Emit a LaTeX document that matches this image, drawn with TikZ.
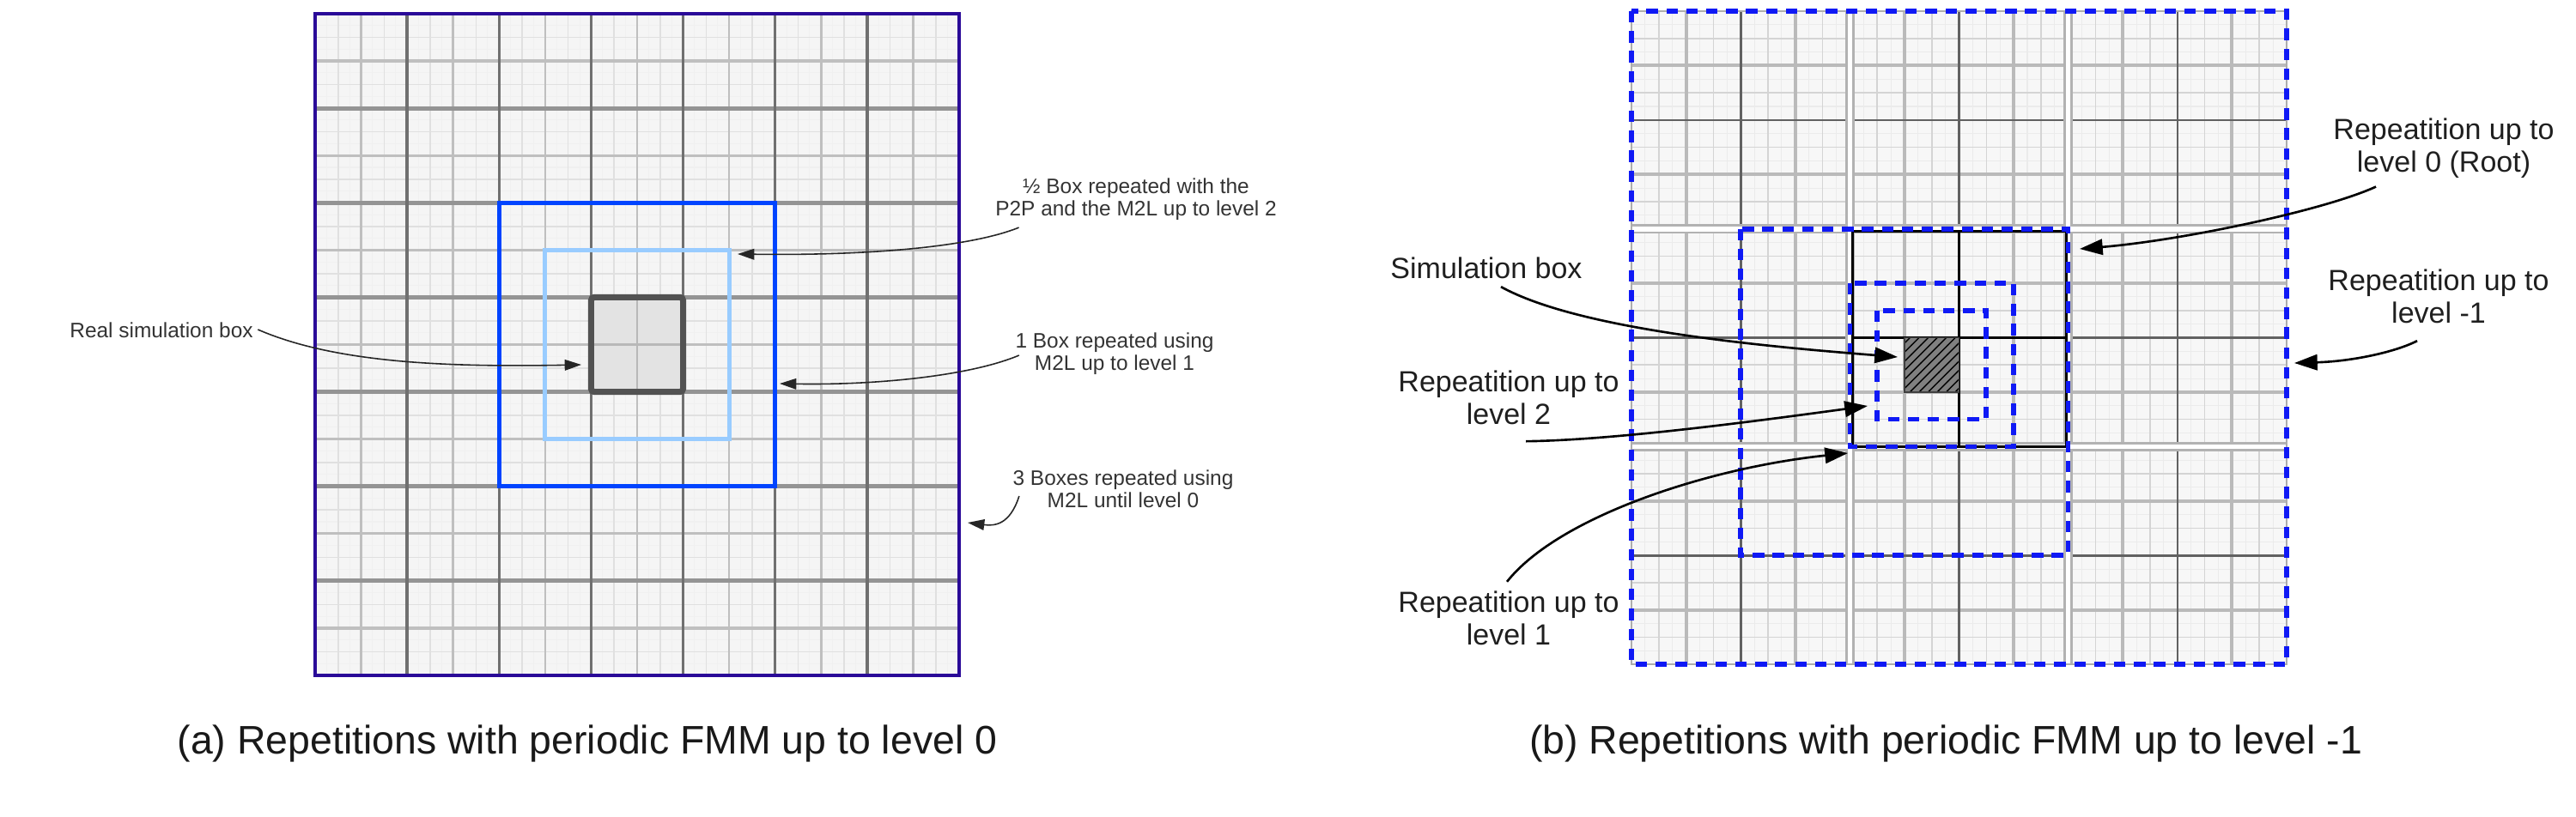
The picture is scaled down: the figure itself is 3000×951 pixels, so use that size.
\documentclass[tikz,border=0pt]{standalone}
\usepackage{fontspec}
\setmainfont{Liberation Sans}
\usetikzlibrary{arrows.meta,patterns}
\definecolor{indigoB}{RGB}{42,10,152}
\definecolor{blueB}{RGB}{0,68,255}
\definecolor{lblueB}{RGB}{153,204,255}
\definecolor{dashB}{RGB}{15,25,245}
\definecolor{txtL}{RGB}{51,51,51}
\tikzset{
  lablL/.style={font=\fontsize{6.95}{7.4}\selectfont, text=txtL, align=center, inner sep=0pt},
  lablR/.style={font=\fontsize{9.67}{10.8}\selectfont, text=black!88, align=center, inner sep=0pt},
  capt/.style={font=\fontsize{13.2}{15}\selectfont, text=black!90, inner sep=0pt},
  arrL/.style={draw=black!85, line width=0.45pt, -{Triangle[length=5.5pt,width=3.6pt]}},
  arrR/.style={draw=black, line width=0.75pt, -{Triangle[length=7.6pt,width=5.2pt]}},
  dashbox/.style={draw=dashB, line width=1.6pt, dash pattern=on 3.8pt off 2.8pt},
}
\begin{document}
\begin{tikzpicture}[x=0.01cm,y=-0.01cm]
\useasboundingbox (0,0) rectangle (3000,951);

% ---------------- left panel ----------------
\begin{scope}[shift={(367,16)},xscale=107.14,yscale=110.14]
  \fill[black!4] (0,0) rectangle (7,7);
  \foreach \k in {1,3,...,55} {
    \draw[black!6, line width=0.3pt] ({\k/8},0) -- ({\k/8},7);
    \draw[black!6, line width=0.3pt] (0,{\k/8}) -- (7,{\k/8});
  }
  \foreach \k in {1,3,...,27} {
    \draw[black!12, line width=0.45pt] ({\k/4},0) -- ({\k/4},7);
    \draw[black!12, line width=0.45pt] (0,{\k/4}) -- (7,{\k/4});
  }
  \foreach \k in {1,3,...,13} {
    \draw[black!25, line width=0.75pt] ({\k/2},0) -- ({\k/2},7);
    \draw[black!25, line width=0.9pt] (0,{\k/2}) -- (7,{\k/2});
  }
  \foreach \k in {1,...,6} {
    \draw[black!42, line width=1.5pt] (0,\k) -- (7,\k);
  }
  \foreach \k in {1,...,6} {
    \draw[black!56, line width=0.95pt] (\k,0) -- (\k,7);
  }
  \fill[black!11] (3,3) rectangle (4,4);
  \draw[black!28, line width=0.75pt] (3.5,3) -- (3.5,4) (3,3.5) -- (4,3.5);
  \draw[lblueB, line width=1.4pt] (2.5,2.5) rectangle (4.5,4.5);
  \draw[blueB, line width=1.4pt] (2,2) rectangle (5,5);
  \draw[black!68, line width=2pt, rounded corners=1pt] (3,3) rectangle (4,4);
  \draw[indigoB, line width=1.4pt] (0,0) rectangle (7,7);
\end{scope}

% ---------------- right panel ----------------
\begin{scope}[shift={(1900,13)},xscale=63.58,yscale=63.42]
  \fill[black!3] (0,0) rectangle (12,12);
  \foreach \k in {1,3,...,47} {
    \draw[black!8, line width=0.3pt] ({\k/4},0) -- ({\k/4},12);
    \draw[black!8, line width=0.3pt] (0,{\k/4}) -- (12,{\k/4});
  }
  \foreach \k in {1,3,...,23} {
    \draw[black!17, line width=0.45pt] ({\k/2},0) -- ({\k/2},12);
    \draw[black!17, line width=0.45pt] (0,{\k/2}) -- (12,{\k/2});
  }
  \foreach \k in {1,3,...,11} {
    \draw[black!27, line width=1.1pt] (\k,0) -- (\k,12);
    \draw[black!27, line width=1.1pt] (0,\k) -- (12,\k);
  }
  \foreach \k in {2,6,10} {
    \draw[black!62, line width=0.75pt] (\k,0) -- (\k,12);
    \draw[black!62, line width=0.75pt] (0,\k) -- (12,\k);
  }
  \foreach \k in {4,8} {
    \draw[black!30, line width=3pt] (\k,0) -- (\k,12);
    \draw[black!30, line width=3pt] (0,\k) -- (12,\k);
  }
  \foreach \k in {4,8} {
    \draw[white, line width=1.6pt] (\k,0) -- (\k,12);
    \draw[white, line width=1.6pt] (0,\k) -- (12,\k);
  }
  \draw[black!32, line width=0.8pt] (0,0) rectangle (12,12);
  % root box
  \draw[black, line width=0.85pt] (4.05,4.05) rectangle (7.97,8.0)
       (6,4.05) -- (6,8.0) (4.05,6) -- (7.97,6);
  % simulation box
  \fill[black!50] (5,6) rectangle (6,7);
  \fill[pattern=north east lines, pattern color=black] (5,6) rectangle (6,7);
  \draw[black!75, line width=0.4pt] (5,6) rectangle (6,7);
  % repetition boxes
  \draw[dashbox] (4.5,5.5) rectangle (6.5,7.5);
  \draw[dashbox] (4,5) rectangle (7,8);
  \draw[dashbox] (2,4) rectangle (8,10);
  \draw[dashbox] (0,0) rectangle (12,12);
\end{scope}

% ---------------- left labels ----------------
\node[lablL] (l1) at (188,385) {Real simulation box};
\node[lablL] (l2) at (1323,232) {½ Box repeated with the\\P2P and the M2L up to level 2};
\node[lablL] (l3) at (1298,412) {1 Box repeated using\\M2L up to level 1};
\node[lablL] (l4) at (1308,570) {3 Boxes repeated using\\M2L until level 0};

\coordinate (t1) at (677,425);
\coordinate (t2) at (859,296);
\coordinate (t3) at (908,447);
\coordinate (t4) at (1127,609);

\draw[arrL] ([shift={(5,-1)}]l1.east) .. controls (390,423) and (520,428) .. (t1);
\draw[arrL] ([shift={(28,8)}]l2.south west) .. controls (1130,288) and (1010,298) .. (t2);
\draw[arrL] ([shift={(5,2)}]l3.west) .. controls (1130,438) and (1020,449) .. (t3);
\draw[arrL] ([shift={(8,8)}]l4.west) .. controls (1176,612) and (1158,613) .. (t4);

% ---------------- right labels ----------------
\node[lablR] (r1) at (1731,312) {Simulation box};
\node[lablR] (r2) at (1757,463) {Repeatition up to\\level 2};
\node[lablR] (r3) at (1757,720) {Repeatition up to\\level 1};
\node[lablR] (r0) at (2846,173) {Repeatition up to\\level 0 (Root)};
\node[lablR] (rm) at (2840,345) {Repeatition up to\\level -1};

\coordinate (s1) at (2210,416);
\coordinate (s2) at (2175,473);
\coordinate (s3) at (2152,528);
\coordinate (s0) at (2422,290);
\coordinate (sm) at (2672,423);

\draw[arrR] ([shift={(17,9)}]r1.south) .. controls (1840,385) and (2060,404) .. (s1);
\draw[arrR] ([shift={(20,19)}]r2.south) .. controls (1880,513) and (2050,490) .. (s2);
\draw[arrR] ([shift={(-2,-10)}]r3.north) .. controls (1815,602) and (1990,545) .. (s3);
\draw[arrR] ([shift={(-79,9)}]r0.south) .. controls (2707,245) and (2542,280) .. (s0);
\draw[arrR] ([shift={(-25,20)}]rm.south) .. controls (2790,410) and (2740,421) .. (sm);

% ---------------- captions ----------------
\node[capt] (ca) at (684,866) {(a) Repetitions with periodic FMM up to level 0};
\node[capt] (cb) at (2266,866) {(b) Repetitions with periodic FMM up to level -1};
\end{tikzpicture}
\end{document}
